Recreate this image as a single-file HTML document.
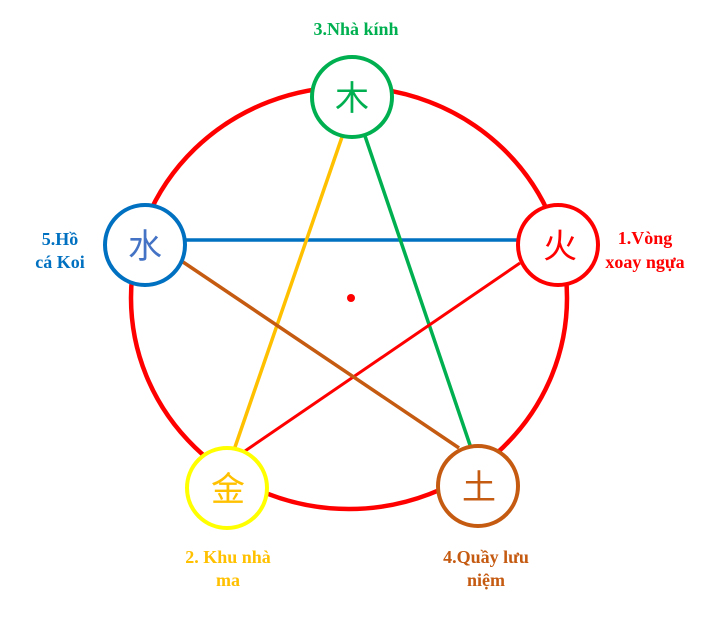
<!DOCTYPE html>
<html><head><meta charset="utf-8"><style>
body{margin:0;background:#fff;}
svg{display:block}
.l{font-family:"Liberation Serif",serif;font-weight:bold;font-size:18px}
.c{font-family:"Liberation Sans","Noto Sans CJK SC",sans-serif;font-size:34px}
</style></head><body>
<svg width="712" height="623" viewBox="0 0 712 623">
<ellipse cx="349" cy="298" rx="218" ry="211" fill="none" stroke="#ff0000" stroke-width="4.5"/>
<line x1="185" y1="240" x2="518" y2="240" stroke="#0070c0" stroke-width="3.5"/>
<line x1="342" y1="137" x2="234" y2="450" stroke="#ffc000" stroke-width="3.5"/>
<line x1="365" y1="136" x2="471" y2="448" stroke="#00b050" stroke-width="3.5"/>
<line x1="520" y1="263" x2="245" y2="451" stroke="#ff0000" stroke-width="3"/>
<line x1="183" y1="262" x2="459" y2="448" stroke="#c55a11" stroke-width="3.5"/>
<circle cx="351" cy="298" r="4" fill="#ff0000"/>
<circle cx="352" cy="97" r="40" fill="#fff" stroke="#00b050" stroke-width="4"/>
<circle cx="145" cy="245" r="40" fill="#fff" stroke="#0070c0" stroke-width="4"/>
<circle cx="558" cy="245" r="40" fill="#fff" stroke="#ff0000" stroke-width="4"/>
<circle cx="227" cy="488" r="40" fill="#fff" stroke="#ffff00" stroke-width="4"/>
<circle cx="478" cy="486" r="40" fill="#fff" stroke="#c55a11" stroke-width="4"/>
<text class="c" x="352" y="110" text-anchor="middle" fill="#00b050">木</text>
<text class="c" x="145" y="258" text-anchor="middle" fill="#4472c4">水</text>
<text class="c" x="560" y="258" text-anchor="middle" fill="#ff0000">火</text>
<text class="c" x="228" y="501" text-anchor="middle" fill="#ffc000">金</text>
<text class="c" x="479" y="499" text-anchor="middle" fill="#c55a11">土</text>
<text class="l" x="356" y="35" text-anchor="middle" fill="#00b050">3.Nhà kính</text>
<text class="l" x="60" y="245" text-anchor="middle" fill="#0070c0">5.Hồ</text>
<text class="l" x="60" y="268" text-anchor="middle" fill="#0070c0">cá Koi</text>
<text class="l" x="645" y="244" text-anchor="middle" fill="#ff0000">1.Vòng</text>
<text class="l" x="645" y="268" text-anchor="middle" fill="#ff0000">xoay ngựa</text>
<text class="l" x="228" y="563" text-anchor="middle" fill="#ffc000">2. Khu nhà</text>
<text class="l" x="228" y="586" text-anchor="middle" fill="#ffc000">ma</text>
<text class="l" x="486" y="563" text-anchor="middle" fill="#c55a11">4.Quầy lưu</text>
<text class="l" x="486" y="586" text-anchor="middle" fill="#c55a11">niệm</text>
</svg>
</body></html>
